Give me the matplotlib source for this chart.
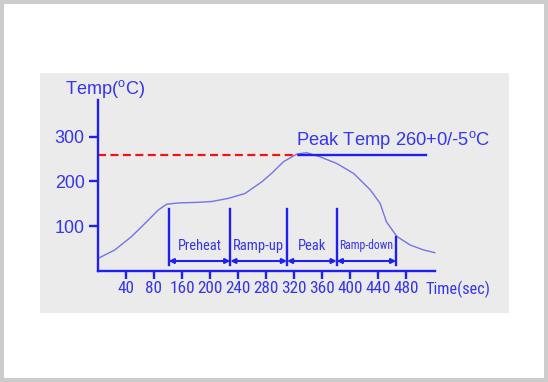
import matplotlib
matplotlib.use("Agg")
import matplotlib.pyplot as plt
from matplotlib import font_manager
from matplotlib.font_manager import FontProperties
from matplotlib.textpath import TextPath
from matplotlib.patches import Rectangle

# reflow profile (x in axis units, 40 per tick)
time_pts = [0, 24, 48, 67, 86, 98, 115, 139, 162, 186, 210, 234, 248,
            265, 284, 298, 317, 341, 365, 389, 403, 412, 427, 446, 465, 481]
temp_pts = [28, 47, 77, 106, 136, 149, 152, 153, 155, 162, 173, 199, 218,
            244, 261, 264, 255, 240, 218, 181, 151, 110, 77, 58, 47, 41]

tick_pos = [40, 80, 120, 160, 200, 240, 280, 320, 360, 400, 440]
tick_labels = ['40', '80', '160', '200', '240', '280', '320', '360',
               '400', '440', '480']
ytick_pos = [100, 200, 300]

peak_temp = 260
peak_time = 287
peak_line_end = 468

# phase boundaries and names
phase_edges = [101, 189, 270, 341, 426]
phase_names = ['Preheat', 'Ramp-up', 'Peak', 'Ramp-down']
phase_widths = [40, 48, 26, 49]     # ink width in px
phase_caps = [10.7, 10.7, 10.7, 9]  # cap height in px

W, H = 548, 382

plt.rcParams['font.family'] = ['Liberation Sans', 'DejaVu Sans']
plt.rcParams['mathtext.fontset'] = 'custom'
plt.rcParams['mathtext.rm'] = 'Liberation Sans'

# the original uses a condensed face for the small labels
prefer = ['LiberationSansNarrow-Regular', 'RobotoCondensed-Regular',
          'NotoSans-Condensed.', 'NotoSans-CondensedRegular', 'DejaVuSansCondensed.',
          'OpenSans_Condensed-Regular', 'OpenSansCondensed']
files = [f.fname for f in font_manager.fontManager.ttflist]
narrow = FontProperties(family='Liberation Sans')
for key in prefer:
    hit = [p for p in files if key in p.split('/')[-1]]
    if hit:
        narrow = FontProperties(fname=hit[0])
        break
regular = FontProperties(family='Liberation Sans')


def fit_size(s, px, prop):
    # font size (pt) that gives the text an ink width of px pixels
    em = TextPath((0, 0), s, size=1, prop=prop).get_extents().width
    return px * 72 / 100 / em


def fit_both(s, px_w, ref_glyph, px_h, prop):
    # compromise between matching width and matching glyph height
    sw = fit_size(s, px_w, prop)
    em_h = TextPath((0, 0), ref_glyph, size=1, prop=prop).get_extents().height
    sh = px_h * 72 / 100 / em_h
    return (sw + sh) / 2


def fprop(base, size):
    p = base.copy()
    p.set_size(size)
    return p


line_blue = '#1f1ff0'
text_blue = '#3535f2'
curve_blue = '#7373ee'

fig = plt.figure(figsize=(W / 100, H / 100), dpi=100)
fig.patch.set_facecolor('#cccccc')
fig.patches.append(Rectangle((4 / W, 4 / H), 1 - 8 / W, 1 - 8 / H,
                             transform=fig.transFigure, facecolor='white',
                             edgecolor='none', zorder=-2))
fig.patches.append(Rectangle((40 / W, 1 - 312.7 / H), (509 - 40) / W, (312.7 - 72.7) / H,
                             transform=fig.transFigure, facecolor='#ebebeb',
                             edgecolor='none', zorder=-1))

ax = fig.add_axes([98 / W, 1 - 271 / H, (434.7 - 98) / W, (271 - 100.3) / H])
ax.set_facecolor('none')
ax.set_xlim(0, 481)
ax.set_ylim(0, 381)

for s in ['top', 'right']:
    ax.spines[s].set_visible(False)
for s in ['left', 'bottom']:
    ax.spines[s].set_color(line_blue)
    ax.spines[s].set_linewidth(1.7)

xt_prop = fprop(narrow, min(fit_both('160', 22, '0', 13.3, narrow), fit_size('160', 25, narrow)))
ax.set_xticks(tick_pos)
ax.set_xticklabels(tick_labels, fontproperties=xt_prop, color=text_blue)
yt_prop = fprop(regular, fit_size('300', 28.5, regular))
ax.set_yticks(ytick_pos)
ax.set_yticklabels([str(v) for v in ytick_pos], fontproperties=yt_prop, color=text_blue)
ax.tick_params(axis='x', length=5.5, width=1.7, color=line_blue, pad=1.5)
ax.tick_params(axis='y', length=6.5, width=1.7, color=line_blue, pad=3.2)

# temperature curve
ax.plot(time_pts, temp_pts, color=curve_blue, lw=1.0, clip_on=False)

# peak temperature line
ax.plot([0, peak_time], [peak_temp, peak_temp], color='#ee1515', lw=1.6,
        dashes=(3.6, 2.0))
ax.plot([peak_time, peak_line_end], [peak_temp, peak_temp], color=line_blue, lw=1.7)
peak_txt = 'Peak Temp 260+0/-5$^{\\mathrm{o}}$C'
ax.text(282.5, 281, peak_txt, fontproperties=fprop(regular, fit_size(peak_txt, 191, regular)),
        color=text_blue, ha='left', va='baseline')

# phases
for i, xe in enumerate(phase_edges):
    top = 138 if i < len(phase_edges) - 1 else 77
    ax.plot([xe, xe], [13.4, top], color=line_blue, lw=1.7)
for i, name in enumerate(phase_names):
    x0, x1 = phase_edges[i], phase_edges[i + 1]
    ax.annotate('', xy=(x0, 22.3), xytext=(x1, 22.3),
                arrowprops=dict(arrowstyle='<|-|>', color=line_blue, lw=1.5,
                                mutation_scale=7, shrinkA=0, shrinkB=0))
    size = fit_both(name, phase_widths[i], name[0], phase_caps[i], narrow)
    ax.text((x0 + x1) / 2, 56.5, name, fontproperties=fprop(narrow, size),
            color=text_blue, ha='center', va='center')

temp_txt = 'Temp($^{\\mathrm{o}}$C)'
fig.text(65 / W, 1 - 89.3 / H, temp_txt,
         fontproperties=fprop(regular, fit_size(temp_txt, 77.5, regular)),
         color=text_blue, ha='left', va='center')
fig.text(425.5 / W, 1 - 289.3 / H, 'Time(sec)',
         fontproperties=fprop(narrow, fit_both('Time(sec)', 62, 'T', 11.7, narrow)),
         color=text_blue, ha='left', va='center')

fig.savefig('out.png', dpi=100, facecolor=fig.get_facecolor())
